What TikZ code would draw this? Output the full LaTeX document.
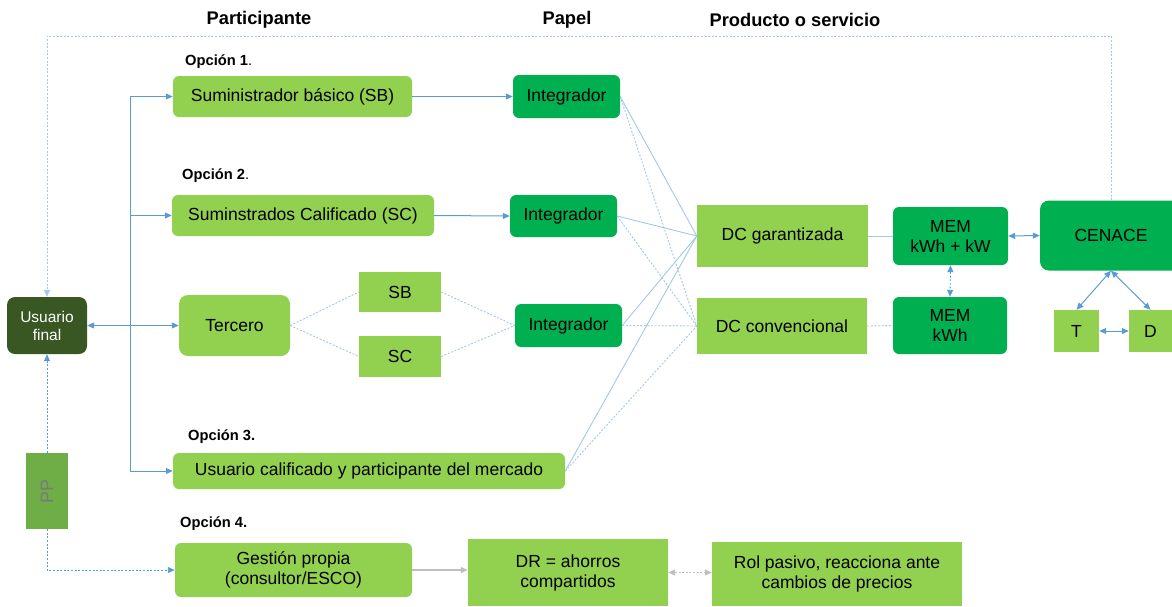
\documentclass[tikz,border=0pt]{standalone}
\usepackage{fontspec}
\setmainfont{Liberation Sans}
\usetikzlibrary{arrows.meta}

\definecolor{lightgreen}{HTML}{92D050}
\definecolor{midgreen}{HTML}{00B050}
\definecolor{darkgreen}{HTML}{385723}
\definecolor{ppgreen}{HTML}{6FAD47}
\definecolor{ppgrey}{HTML}{7A7A7A}
\definecolor{linkblue}{HTML}{5B9BD5}
\definecolor{paleblue}{HTML}{A4C6E8}
\definecolor{linkgrey}{HTML}{BFBFBF}

\tikzset{
  boxtext/.style={font=\fontsize{17.5}{20}\selectfont, align=center, inner sep=0pt},
  lightbox/.style={boxtext, fill=lightgreen},
  lightround/.style={lightbox, rounded corners=6pt},
  greenround/.style={boxtext, fill=midgreen, rounded corners=6pt},
  header/.style={font=\fontsize{18.3}{20}\selectfont\bfseries, inner sep=0pt},
  optlabel/.style={font=\fontsize{14.7}{16}\selectfont, anchor=west, inner sep=0pt},
  bluelink/.style={linkblue, line width=1pt},
  solidlink/.style={paleblue, line width=0.9pt},
  dotlink/.style={paleblue, line width=0.9pt, dash pattern=on 2pt off 1.6pt},
  onearrow/.style={-{Triangle[length=7pt,width=6pt]}},
  twoarrows/.style={{Triangle[length=7pt,width=6pt]}-{Triangle[length=7pt,width=6pt]}},
}

\begin{document}
\begin{tikzpicture}[x=1pt,y=-1pt]
\useasboundingbox (0,0) rectangle (1172,606);

% Column headers
\node[header] (hpart) at (259,20) {Participante};
\node[header] (hpapel) at (567,20) {Papel};
\node[header] (hprod) at (795,20) {Producto o servicio};

% Option labels
\node[optlabel] (opt1) at (185,62) {\textbf{Opción 1}.};
\node[optlabel] (opt2) at (182,176) {\textbf{Opción 2}.};
\node[optlabel] (opt3) at (188,437) {\textbf{Opción 3.}};
\node[optlabel] (opt4) at (180,524) {\textbf{Opción 4.}};

% Final user and PP
\node[boxtext, fill=darkgreen, rounded corners=8pt, text=white, font=\fontsize{15.5}{18}\selectfont,
      minimum width=80pt, minimum height=57pt] (usr) at (47,325.5) {Usuario\\final};
\node[boxtext, fill=ppgreen, minimum width=42pt, minimum height=76pt] (pp) at (47,491)
      {\rotatebox{90}{\color{ppgrey}\fontsize{18}{20}\selectfont PP}};

% Participants
\node[lightround, minimum width=239pt, minimum height=41pt] (sb) at (292.5,96.5) {Suministrador básico (SB)};
\node[lightround, minimum width=262pt, minimum height=41pt] (sc) at (303,215.5) {Suminstrados Calificado (SC)};
\node[lightround, rounded corners=9pt, minimum width=111pt, minimum height=61pt] (tercero) at (234.5,325.5) {Tercero};
\node[lightbox, minimum width=82pt, minimum height=40pt] (tsb) at (400,292) {SB};
\node[lightbox, minimum width=82pt, minimum height=41pt] (tsc) at (400,356.5) {SC};
\node[lightround, minimum width=392pt, minimum height=36pt] (ucal) at (369,471) {Usuario calificado y participante del mercado};
\node[lightround, minimum width=237pt, minimum height=54pt] (gestion) at (293.5,570) {Gestión propia\\(consultor/ESCO)};

% Integrators
\node[greenround, minimum width=107pt, minimum height=43pt] (int1) at (566.5,96.5) {Integrador};
\node[greenround, minimum width=107pt, minimum height=42pt] (int2) at (563.5,216) {Integrador};
\node[greenround, minimum width=107pt, minimum height=43pt] (int3) at (568.5,325.5) {Integrador};

% Products
\node[lightbox, minimum width=171pt, minimum height=62pt] (dcg) at (782.5,236) {DC garantizada};
\node[lightbox, minimum width=170pt, minimum height=56pt] (dcc) at (782,326) {DC convencional};
\node[greenround, minimum width=115pt, minimum height=58pt] (mem1) at (950.5,236) {MEM\\kWh + kW};
\node[greenround, minimum width=114pt, minimum height=57pt] (mem2) at (950,325.5) {MEM\\kWh};
\node[greenround, rounded corners=9pt, minimum width=142pt, minimum height=70pt] (cenace) at (1111,235.5) {CENACE};
\node[lightbox, minimum width=45pt, minimum height=42pt] (tnode) at (1076.5,331) {T};
\node[lightbox, minimum width=43pt, minimum height=42pt] (dnode) at (1150.5,331) {D};
\node[lightbox, minimum width=200pt, minimum height=67pt] (dr) at (568,572.5) {DR = ahorros\\compartidos};
\node[lightbox, minimum width=250pt, minimum height=64pt] (rol) at (837,574) {Rol pasivo, reacciona ante\\cambios de precios};

% Feedback loop from CENACE to the final user
\coordinate (ring) at (47,36);
\draw[dotlink, onearrow] (cenace.north) |- (ring) -- (usr.north);

% Trunk from the final user to the options
\coordinate (trunk) at (130,325.5);
\draw[bluelink] (trunk |- sb.west) -- (trunk |- ucal.west);
\draw[bluelink, onearrow] (trunk |- sb.west) -- (sb.west);
\draw[bluelink, onearrow] (trunk |- sc.west) -- (sc.west);
\draw[bluelink, onearrow] (trunk |- ucal.west) -- (ucal.west);
\draw[bluelink, twoarrows] (usr.east) -- (tercero.west);

% Participants to integrators
\draw[bluelink, onearrow] (sb.east) -- (int1.west);
\draw[bluelink, onearrow] (sc.east) -- (int2.west);
\draw[dotlink] (tercero.east) -- (tsb.west);
\draw[dotlink] (tercero.east) -- (tsc.west);
\draw[dotlink] (tsb.east) -- (int3.west);
\draw[dotlink] (tsc.east) -- (int3.west);

% Integrators to products
\foreach \src in {int1,int2,int3,ucal} {
  \draw[solidlink] (\src.east) -- (dcg.west);
  \draw[dotlink] (\src.east) -- (dcc.west);
}

% Products to market
\draw[solidlink] (dcg.east) -- (mem1.west);
\draw[dotlink] (dcc.east) -- (mem2.west);
\draw[bluelink, twoarrows] (mem1.east) -- (cenace.west);
\draw[dotlink, linkblue, twoarrows] (mem1.south) -- (mem2.north);
\draw[bluelink, twoarrows] (cenace.south) -- (tnode.north);
\draw[bluelink, twoarrows] (cenace.south) -- (dnode.north);
\draw[bluelink, twoarrows] (tnode.east) -- (dnode.west);

% Option 4
\draw[dotlink, linkblue, onearrow] (pp.north) -- (usr.south);
\draw[dotlink, linkblue, onearrow] (pp.south) |- (gestion.west);
\draw[linkgrey, line width=1.2pt, onearrow] (gestion.east) -- (gestion.east -| dr.west);
\draw[linkgrey, line width=1.2pt, dash pattern=on 2pt off 1.6pt, twoarrows] (dr.east) -- (dr.east -| rol.west);
\end{tikzpicture}
\end{document}
